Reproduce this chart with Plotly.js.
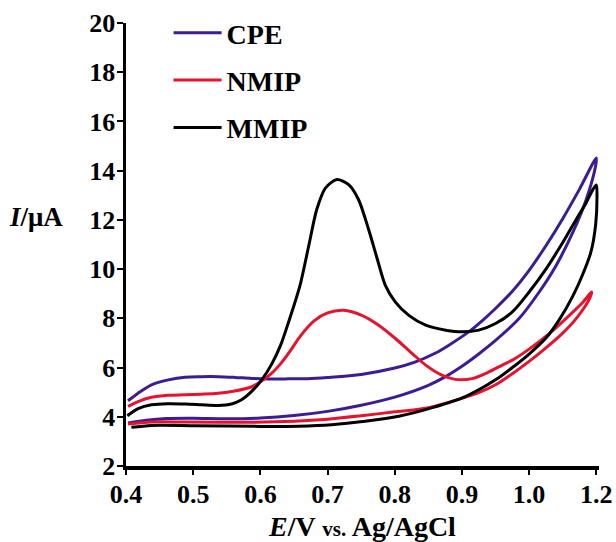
<!DOCTYPE html>
<html>
<head>
<meta charset="utf-8">
<script src="https://cdn.plot.ly/plotly-3.0.1.min.js"></script>
<style>html,body{margin:0;padding:0;background:#fff}#chart{width:616px;height:542px}</style>
</head>
<body>
<div id="chart"></div>
<script>
// CPE (purple) – forward sweep then reverse sweep
const cpeE = [0.403,0.418,0.438,0.463,0.488,0.512,0.537,0.562,0.587,0.612,0.637,0.67,0.70,0.75,0.80,0.83,0.86,0.88,0.91,0.93,0.95,0.975,1.0,1.025,1.05,1.075,1.1,
              1.099,1.085,1.065,1.04,1.015,0.985,0.95,0.925,0.90,0.875,0.85,0.80,0.75,0.70,0.65,0.60,0.55,0.50,0.46,0.43,0.403];
const cpeI = [4.65,4.96,5.30,5.50,5.61,5.63,5.63,5.60,5.56,5.54,5.54,5.55,5.60,5.72,5.98,6.22,6.58,6.9,7.45,7.9,8.4,9.1,9.95,10.95,12.05,13.25,14.52,
              14.2,12.83,11.49,10.14,9.07,7.99,7.1,6.55,6.05,5.62,5.28,4.8,4.47,4.22,4.05,3.95,3.92,3.94,3.93,3.86,3.75];
// NMIP (red)
const nmipE = [0.403,0.418,0.438,0.463,0.488,0.512,0.537,0.562,0.587,0.60,0.615,0.63,0.645,0.66,0.68,0.70,0.724,0.751,0.776,0.801,0.826,0.846,0.871,0.89,0.915,0.94,0.96,0.975,1.0,1.03,1.06,1.08,1.093,
               1.09,1.07,1.05,1.025,1.0,0.975,0.95,0.925,0.90,0.846,0.80,0.75,0.70,0.65,0.587,0.488,0.438,0.403];
const nmipI = [4.42,4.62,4.79,4.87,4.89,4.92,4.96,5.05,5.22,5.42,5.72,6.15,6.7,7.3,7.9,8.22,8.33,8.12,7.72,7.18,6.57,6.1,5.68,5.52,5.55,5.82,6.1,6.3,6.75,7.38,8.12,8.65,9.07,
               8.8,7.99,7.4,6.8,6.25,5.75,5.3,4.98,4.75,4.35,4.2,4.04,3.9,3.82,3.78,3.79,3.79,3.71];
// MMIP (black)
const mmipE = [0.402,0.418,0.438,0.463,0.488,0.512,0.537,0.557,0.572,0.587,0.602,0.617,0.63,0.642,0.659,0.672,0.684,0.697,0.714,0.731,0.746,0.761,0.774,0.786,0.801,0.821,0.846,0.876,0.90,0.925,0.95,0.975,1.0,1.025,1.05,1.07,1.085,1.095,1.10,
               1.101,1.099,1.092,1.08,1.065,1.045,1.025,1.0,0.975,0.95,0.905,0.856,0.806,0.756,0.706,0.657,0.60,0.50,0.438,0.408];
const mmipI = [4.04,4.33,4.49,4.53,4.52,4.49,4.46,4.52,4.69,5.03,5.5,6.15,6.9,7.85,9.34,10.95,12.43,13.3,13.64,13.44,12.83,11.62,10.41,9.34,8.66,8.12,7.72,7.52,7.45,7.52,7.79,8.26,9.07,10.0,11.08,12.02,12.7,13.24,13.42,
               12.9,11.8,10.7,9.8,8.9,7.95,7.2,6.55,6.0,5.5,4.82,4.37,4.02,3.82,3.68,3.62,3.61,3.64,3.65,3.57];

const xTickVals = [0.4,0.5,0.6,0.7,0.8,0.9,1.0,1.1];
const xTickText = ["0.4","0.5","0.6","0.7","0.8","0.9","1.0","1.2"];
const yTickVals = [2,4,6,8,10,12,14,16,18,20];

const serif = '"Liberation Serif", "Times New Roman", serif';

function tr(x, y, name, color) {
  return {x: x, y: y, name: name, type: 'scatter', mode: 'lines', legendgroup: name,
          line: {color: color, width: 3, shape: 'spline', smoothing: 0.8}};
}
const data = [
  tr(cpeE, cpeI, 'CPE', '#3b1c93'),
  tr(nmipE, nmipI, 'NMIP', '#e5132e'),
  tr(mmipE, mmipI, 'MMIP', '#000000')
];

const layout = {
  width: 616, height: 542,
  margin: {l: 126, r: 17, t: 23, b: 76, autoexpand: false},
  paper_bgcolor: '#fff', plot_bgcolor: '#fff',
  font: {family: serif, color: '#000', size: 26, weight: 'bold'},
  showlegend: true,
  legend: {x: 0.09, y: 1.034, xanchor: 'left', yanchor: 'top', bgcolor: 'rgba(0,0,0,0)',
           font: {family: serif, size: 28, weight: 'bold', color: '#000'},
           traceorder: 'grouped', tracegroupgap: 8, itemwidth: 48},
  xaxis: {range: [0.4, 1.104], tickvals: xTickVals, ticktext: xTickText,
          showgrid: false, zeroline: false, showline: true, linecolor: '#000', linewidth: 3.5,
          ticks: 'outside', ticklen: 5, tickwidth: 2, tickcolor: '#000', ticklabelstandoff: -3,
          tickfont: {family: serif, size: 26, weight: 'bold', color: '#000'},
          title: {text: '<i>E</i>/V <span style="font-size:21px">vs.</span> Ag/AgCl',
                  font: {family: serif, size: 28, weight: 'bold', color: '#000'}, standoff: 20}},
  yaxis: {range: [2, 20], tickvals: yTickVals,
          showgrid: false, zeroline: false, showline: true, linecolor: '#000', linewidth: 3.5,
          ticks: 'outside', ticklen: 6, tickwidth: 2, tickcolor: '#000', ticklabelstandoff: -4,
          tickfont: {family: serif, size: 26, weight: 'bold', color: '#000'}},
  annotations: [{xref: 'paper', yref: 'paper', x: -0.19, y: 0.561, xanchor: 'center', yanchor: 'middle',
                 showarrow: false, text: '<i>I</i>/μA',
                 font: {family: serif, size: 27, weight: 'bold', color: '#000'}}]
};

Plotly.newPlot('chart', data, layout, {displayModeBar: false, staticPlot: true});
</script>
</body>
</html>
